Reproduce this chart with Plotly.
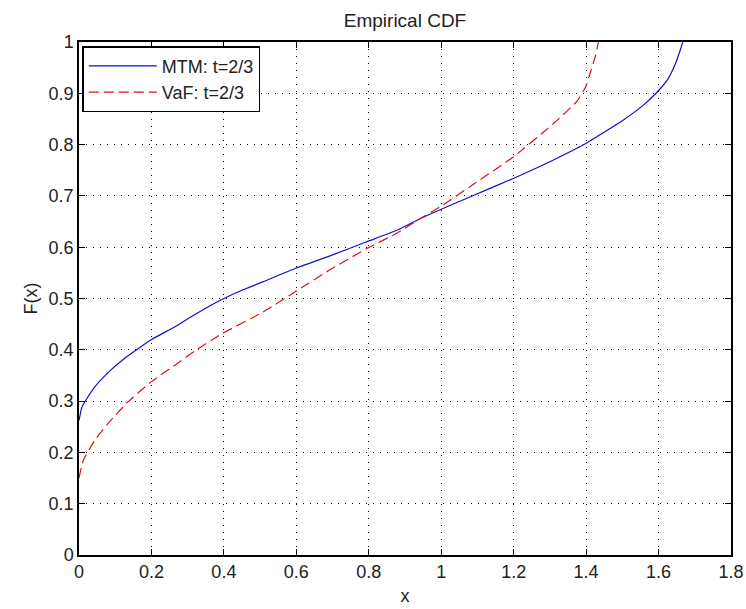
import plotly.graph_objects as go

mtm_x = [0, 0.008, 0.021, 0.044, 0.081, 0.127, 0.173, 0.2, 0.265, 0.311, 0.357, 0.4,
         0.45, 0.509, 0.598, 0.693, 0.796, 0.877, 0.94, 1.0, 1.079, 1.199, 1.31, 1.399, 1.438,
         1.503, 1.558, 1.597, 1.627, 1.645, 1.657, 1.667]
mtm_y = [0.262, 0.288, 0.304, 0.328, 0.356, 0.384, 0.407, 0.42, 0.445, 0.465, 0.484, 0.5,
         0.516, 0.533, 0.559, 0.583, 0.611, 0.633, 0.655, 0.674, 0.698, 0.734, 0.77, 0.802, 0.819,
         0.848, 0.877, 0.903, 0.929, 0.955, 0.978, 1.0]

vaf_x = [0, 0.012, 0.044, 0.081, 0.136, 0.2, 0.265, 0.32, 0.394, 0.509, 0.601, 0.693, 0.796,
         0.877, 0.94, 1.0, 1.079, 1.199, 1.31, 1.374, 1.399, 1.411, 1.425, 1.434]
vaf_y = [0.15, 0.185, 0.224, 0.257, 0.299, 0.338, 0.370, 0.398, 0.431, 0.474, 0.515, 0.556, 0.598,
         0.627, 0.655, 0.68, 0.718, 0.776, 0.841, 0.884, 0.913, 0.939, 0.971, 1.0]

x_ticks = [0, 0.2, 0.4, 0.6, 0.8, 1, 1.2, 1.4, 1.6, 1.8]
x_tick_labels = ["0", "0.2", "0.4", "0.6", "0.8", "1", "1.2", "1.4", "1.6", "1.8"]
y_ticks = [0, 0.1, 0.2, 0.3, 0.4, 0.5, 0.6, 0.7, 0.8, 0.9, 1]
y_tick_labels = ["0", "0.1", "0.2", "0.3", "0.4", "0.5", "0.6", "0.7", "0.8", "0.9", "1"]

font = "Arial, Liberation Sans, sans-serif"
txt = "#222222"

fig = go.Figure()
fig.add_trace(go.Scatter(x=mtm_x, y=mtm_y, mode="lines", name="MTM: t=2/3",
                         line=dict(color="#1010d0", width=1.2, shape="spline", smoothing=0.5)))
fig.add_trace(go.Scatter(x=vaf_x, y=vaf_y, mode="lines", name="VaF: t=2/3",
                         line=dict(color="#e01010", width=1.2, dash="10px,5px",
                                   shape="spline", smoothing=0.5)))

axis_common = dict(
    showline=True, linecolor="black", linewidth=1.5, mirror="ticks",
    ticks="inside", ticklen=6, tickcolor="black", automargin=False,
    showgrid=True, gridcolor="black", gridwidth=1, griddash="1px,6px",
    zeroline=False, tickfont=dict(family=font, size=18, color=txt),
)

fig.update_xaxes(range=[0, 1.8], tickvals=x_ticks, ticktext=x_tick_labels,
                 title=dict(text="x", font=dict(family=font, size=18, color=txt), standoff=8),
                 **axis_common)
fig.update_yaxes(range=[0, 1], tickvals=y_ticks, ticktext=y_tick_labels,
                 title=dict(text="F(x)", font=dict(family=font, size=18, color=txt), standoff=6),
                 **axis_common)

fig.update_layout(
    width=746, height=609,
    margin=dict(l=79, r=15, t=42, b=54),
    paper_bgcolor="white", plot_bgcolor="white",
    title=dict(text="Empirical CDF", x=(79 + 652 / 2) / 746, xanchor="center",
               y=1 - 20 / 609, yanchor="middle",
               font=dict(family=font, size=19, color=txt)),
    showlegend=True,
    legend=dict(x=0.005, y=0.992, xanchor="left", yanchor="top",
                bordercolor="black", borderwidth=1.5, bgcolor="white",
                font=dict(family=font, size=18, color=txt),
                itemwidth=68, entrywidth=120, entrywidthmode="pixels",
                tracegroupgap=0),
)

fig.write_html("out.html", config={"displayModeBar": False},
               post_script="document.body.style.margin='0';document.body.style.overflow='hidden';")
